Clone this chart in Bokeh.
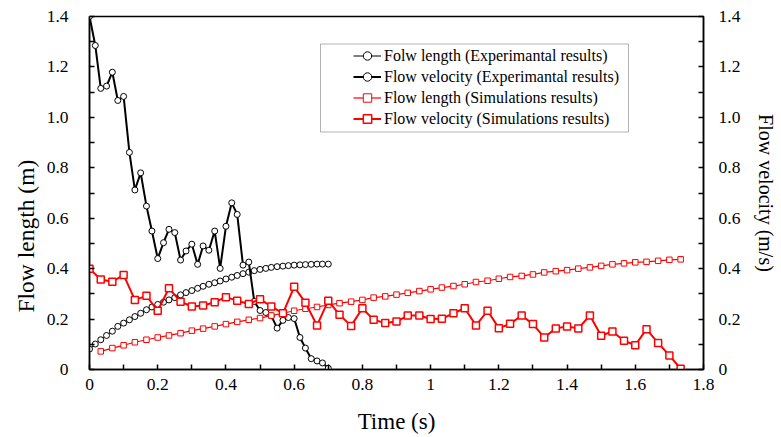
from bokeh.plotting import figure
from bokeh.models import (Range1d, LinearAxis, FixedTicker, Legend, LegendItem,
                          BoxAnnotation, Title)
from bokeh.embed import file_html
from bokeh.resources import INLINE

# ---------------- data ----------------
exp_time = [0, 0.017, 0.033, 0.05, 0.067, 0.083, 0.1, 0.117, 0.133, 0.15, 0.167,
            0.183, 0.2, 0.217, 0.233, 0.25, 0.267, 0.283, 0.3, 0.317, 0.333, 0.35,
            0.367, 0.383, 0.4, 0.417, 0.433, 0.45, 0.467, 0.483, 0.5, 0.517, 0.533,
            0.55, 0.567, 0.583, 0.6, 0.617, 0.633, 0.65, 0.667, 0.683, 0.7]
exp_length = [0.081, 0.101, 0.118, 0.135, 0.152, 0.171, 0.184, 0.197, 0.21, 0.223, 0.237,
              0.248, 0.258, 0.267, 0.276, 0.285, 0.296, 0.305, 0.313, 0.322, 0.33, 0.338,
              0.344, 0.351, 0.359, 0.366, 0.373, 0.38, 0.386, 0.392, 0.397, 0.401, 0.405,
              0.408, 0.41, 0.412, 0.414, 0.415, 0.416, 0.417, 0.418, 0.418, 0.418]
exp_velocity = [1.40, 1.285, 1.115, 1.124, 1.179, 1.067, 1.083, 0.861, 0.712, 0.78, 0.648,
                0.549, 0.44, 0.503, 0.556, 0.543, 0.434, 0.47, 0.497, 0.417, 0.49, 0.473,
                0.549, 0.401, 0.568, 0.661, 0.615, 0.414, 0.426, 0.27, 0.234, 0.226, 0.213,
                0.164, 0.195, 0.206, 0.202, 0.127, 0.085, 0.043, 0.034, 0.026, 0.005]

sim_time = [0, 0.033, 0.067, 0.1, 0.133, 0.167, 0.2, 0.233, 0.267, 0.3, 0.333, 0.367,
            0.4, 0.433, 0.467, 0.5, 0.533, 0.567, 0.6, 0.633, 0.667, 0.7, 0.733, 0.767,
            0.8, 0.833, 0.867, 0.9, 0.933, 0.967, 1.0, 1.033, 1.067, 1.1, 1.133, 1.167,
            1.2, 1.233, 1.267, 1.3, 1.333, 1.367, 1.4, 1.433, 1.467, 1.5, 1.533, 1.567,
            1.6, 1.633, 1.667, 1.7, 1.733]
sim_length_time = sim_time[1:]
sim_length = [0.072, 0.085, 0.096, 0.108, 0.118, 0.127, 0.135, 0.144, 0.154, 0.162, 0.171,
              0.18, 0.189, 0.197, 0.204, 0.214, 0.223, 0.233, 0.241, 0.248, 0.256, 0.263,
              0.269, 0.276, 0.285, 0.29, 0.297, 0.304, 0.311, 0.318, 0.325, 0.331, 0.338,
              0.347, 0.352, 0.36, 0.367, 0.371, 0.377, 0.385, 0.39, 0.394, 0.4, 0.405,
              0.411, 0.417, 0.421, 0.425, 0.427, 0.431, 0.435, 0.437]
sim_velocity = [0.40, 0.357, 0.348, 0.375, 0.276, 0.292, 0.233, 0.322, 0.269, 0.25, 0.254,
                0.267, 0.287, 0.273, 0.26, 0.279, 0.25, 0.223, 0.328, 0.265, 0.175, 0.273,
                0.217, 0.173, 0.243, 0.197, 0.184, 0.19, 0.214, 0.214, 0.2, 0.201, 0.223,
                0.243, 0.175, 0.233, 0.164, 0.181, 0.214, 0.18, 0.127, 0.163, 0.171, 0.163,
                0.214, 0.134, 0.151, 0.114, 0.096, 0.16, 0.105, 0.056, 0.003]

x_ticks = [0, 0.2, 0.4, 0.6, 0.8, 1.0, 1.2, 1.4, 1.6, 1.8]
x_tick_labels = ["0", "0.2", "0.4", "0.6", "0.8", "1", "1.2", "1.4", "1.6", "1.8"]
x_minor = [0.1, 0.3, 0.5, 0.7, 0.9, 1.1, 1.3, 1.5, 1.7]
y_ticks = [0, 0.2, 0.4, 0.6, 0.8, 1.0, 1.2, 1.4]
y_tick_labels = ["0", "0.2", "0.4", "0.6", "0.8", "1.0", "1.2", "1.4"]
y_minor = [0.1, 0.3, 0.5, 0.7, 0.9, 1.1, 1.3]

legend_labels = ["Folw length (Experimantal results)",
                 "Flow velocity (Experimantal results)",
                 "Flow length (Simulations results)",
                 "Flow velocity (Simulations results)"]

FONT = "Liberation Serif"
RED = "#FF0000"

p = figure(width=780, height=436, x_range=Range1d(0, 1.8), y_range=Range1d(0, 1.4),
           output_backend="svg", toolbar_location=None,
           min_border_left=89, min_border_right=77, min_border_top=16, min_border_bottom=66)
p.extra_y_ranges = {"vel": Range1d(0, 1.4)}
p.xgrid.visible = False
p.ygrid.visible = False
p.outline_line_color = "black"
p.outline_line_width = 1.5
p.background_fill_color = "white"
p.border_fill_color = "white"

right = LinearAxis(y_range_name="vel", axis_label="Flow velocity (m/s)")
p.add_layout(right, "right")

def style_axis(ax, ticks, labels, minor):
    ax.ticker = FixedTicker(ticks=ticks, minor_ticks=minor)
    ax.major_label_overrides = dict(zip(ticks, labels))
    ax.major_tick_in = 5
    ax.major_tick_out = 0
    ax.minor_tick_in = 5
    ax.minor_tick_out = 0
    ax.axis_line_color = "black"
    ax.axis_line_width = 1.5
    ax.major_tick_line_color = "black"
    ax.minor_tick_line_color = "black"
    ax.major_tick_line_width = 1.5
    ax.minor_tick_line_width = 1.5
    ax.major_label_text_font = FONT
    ax.major_label_text_font_size = "17.5px"
    ax.major_label_text_color = "black"
    ax.axis_label_text_font = FONT
    ax.axis_label_text_font_style = "normal"
    ax.axis_label_text_color = "black"

xa = p.xaxis[0]
ya = p.yaxis[0]
style_axis(xa, x_ticks, x_tick_labels, x_minor)
style_axis(ya, y_ticks, y_tick_labels, y_minor)
style_axis(right, y_ticks, y_tick_labels, y_minor)
xa.axis_label = "Time (s)"
xa.axis_label_text_font_size = "23px"
xa.major_label_standoff = 9
xa.axis_label_standoff = 16
ya.major_label_standoff = 21
right.axis_label_text_font_size = "20px"
right.major_label_standoff = 15
right.axis_label_standoff = 12

# left axis title: sits lower than the frame centre in the original
p.add_layout(Title(text="Flow length (m)", align="left", offset=57,
                   text_font=FONT, text_font_size="23.5px", text_font_style="normal",
                   text_color="black", standoff=10), "left")

# ---------------- series ----------------
l1 = p.line(exp_time, exp_length, line_color="black", line_width=1)
s1 = p.scatter(exp_time, exp_length, marker="circle", size=6, line_color="black",
               line_width=1, fill_color="white")
l2 = p.line(exp_time, exp_velocity, line_color="black", line_width=2, y_range_name="vel")
s2 = p.scatter(exp_time, exp_velocity, marker="circle", size=6, line_color="black",
               line_width=1, fill_color="white", y_range_name="vel")
l3 = p.line(sim_length_time, sim_length, line_color=RED, line_width=1.2)
s3 = p.scatter(sim_length_time, sim_length, marker="square", size=5.5, line_color=RED,
               line_width=1, fill_color="white")
l4 = p.line(sim_time, sim_velocity, line_color=RED, line_width=2, y_range_name="vel")
s4 = p.scatter(sim_time, sim_velocity, marker="square", size=7, line_color=RED,
               line_width=1.5, fill_color="white", y_range_name="vel")

box = BoxAnnotation(left=231, right=539, top=325.5, bottom=237.5,
                    left_units="screen", right_units="screen",
                    top_units="screen", bottom_units="screen",
                    fill_color="white", fill_alpha=1, line_color="black", line_width=1)
p.add_layout(box)

items = [LegendItem(label=legend_labels[0], renderers=[l1, s1]),
         LegendItem(label=legend_labels[1], renderers=[l2, s2]),
         LegendItem(label=legend_labels[2], renderers=[l3, s3]),
         LegendItem(label=legend_labels[3], renderers=[l4, s4])]
legend = Legend(items=items, location=(260, 236), padding=4, spacing=0, margin=0,
                label_height=21, glyph_height=21, glyph_width=28, label_standoff=3,
                label_text_font=FONT, label_text_font_size="16px",
                label_text_color="black", background_fill_alpha=0,
                border_line_alpha=0)
p.add_layout(legend)

open("out.html", "w").write(file_html(p, INLINE))
